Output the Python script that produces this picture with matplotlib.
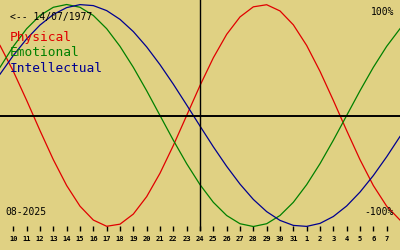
import matplotlib
matplotlib.use('Agg')
import matplotlib.pyplot as plt

# day offsets from 24/08/2025 (the marked day), one value per day
offsets = list(range(-15, 16))
physical = [63.1, 39.8, 13.6, -13.6, -39.8, -63.1, -81.7, -94.2, -99.8, -97.9, -88.8,
            -73.1, -52.0, -27.0, 0.0, 27.0, 52.0, 73.1, 88.8, 97.9, 99.8, 94.2,
            81.7, 63.1, 39.8, 13.6, -13.6, -39.8, -63.1, -81.7, -94.2]
emotional = [43.4, 62.3, 78.2, 90.1, 97.5, 100.0, 97.5, 90.1, 78.2, 62.3, 43.4,
             22.3, 0.0, -22.3, -43.4, -62.3, -78.2, -90.1, -97.5, -100.0, -97.5, -90.1,
             -78.2, -62.3, -43.4, -22.3, 0.0, 22.3, 43.4, 62.3, 78.2]
intellectual = [37.2, 54.1, 69.0, 81.5, 91.0, 97.2, 99.9, 99.0, 94.5, 86.6, 75.6,
                61.8, 45.8, 28.2, 9.5, -9.5, -28.2, -45.8, -61.8, -75.6, -86.6, -94.5,
                -99.0, -99.9, -97.2, -91.0, -81.5, -69.0, -54.1, -37.2, -18.9]

tick_offsets = list(range(-14, 15))
tick_days = [str(d) for d in range(10, 32)] + [str(d) for d in range(1, 8)]

series_names = ['Physical', 'Emotional', 'Intellectual']
colors = ['#e00000', '#008000', '#000090']
birth = '14/07/1977'
month = '08-2025'

bg = '#e0d183'
mono = 'DejaVu Sans Mono'

fig = plt.figure(figsize=(4, 2.5), dpi=100, facecolor=bg)
ax = fig.add_axes([0, 19 / 250, 1, 231 / 250])
ax.set_facecolor(bg)

for vals, c in zip([physical, emotional, intellectual], colors):
    ax.plot(offsets, vals, color=c, lw=0.9)

ax.axhline(0, color='black', lw=1.4)
ax.axvline(0, color='black', lw=1.0)

ax.set_xlim(-15, 15)
lim = 115.5 / 111 * 100
ax.set_ylim(-lim, lim)
for s in ax.spines.values():
    s.set_visible(False)
ax.set_yticks([])
ax.set_xticks(tick_offsets)
ax.set_xticklabels(tick_days, fontfamily=mono, fontweight='bold', fontsize=5.1)
ax.tick_params(axis='x', direction='in', length=3.8, width=1.0, pad=3.5, colors='black')

def px(x, y):
    return x / 400, 1 - y / 250

fig.text(*px(10, 17), '<-- ' + birth, fontfamily=mono, fontsize=7, va='center', ha='left')
fig.text(*px(394, 12), '100%', fontfamily=mono, fontsize=7, va='center', ha='right')
fig.text(*px(394, 212), '-100%', fontfamily=mono, fontsize=7, va='center', ha='right')
fig.text(*px(5, 212), month, fontfamily=mono, fontsize=7, va='center', ha='left')
for i, (name, c) in enumerate(zip(series_names, colors)):
    fig.text(*px(10, 38 + 15 * i), name, fontfamily=mono, fontsize=9.3,
             color=c, va='center', ha='left')

fig.savefig('out.png', dpi=100, facecolor=bg)
